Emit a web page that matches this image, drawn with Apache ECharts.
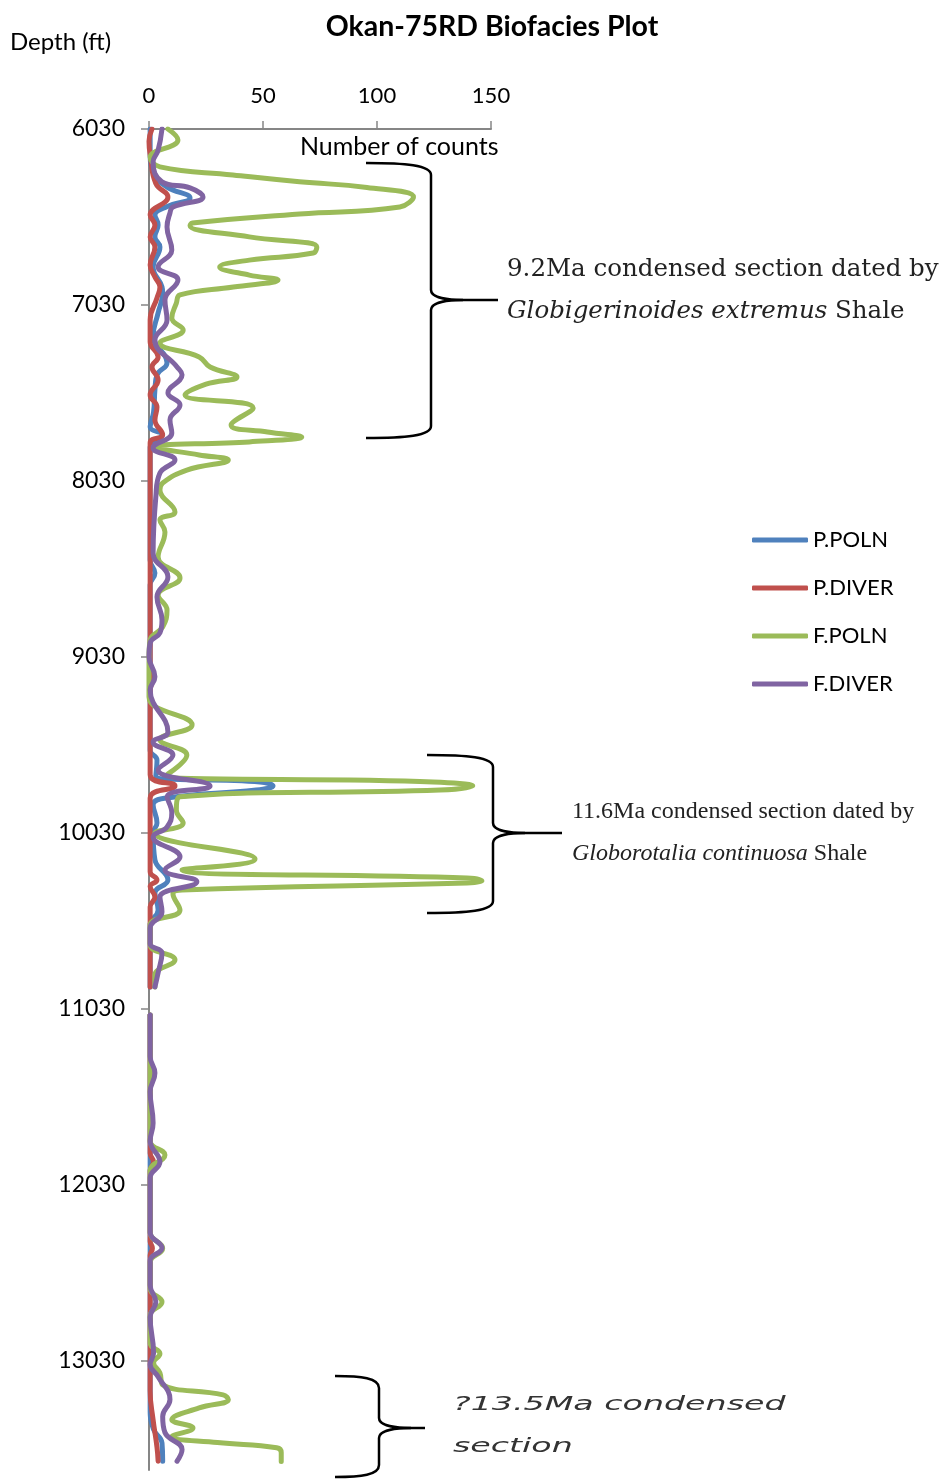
<!DOCTYPE html>
<html><head><meta charset="utf-8">
<script src="https://cdn.jsdelivr.net/npm/echarts@6/dist/echarts.min.js"></script>
<style>html,body{margin:0;padding:0;background:#fff;}#c{width:943px;height:1479px;}</style>
</head><body><div id="c"></div>
<script>
// [count, depth] pairs; null marks the sampling gap
var seriesNames = ['P.POLN', 'P.DIVER', 'F.POLN', 'F.DIVER'];
var depthTicks = [6030, 7030, 8030, 9030, 10030, 11030, 12030, 13030];
var countTicks = [0, 50, 100, 150];

var pPoln = [[0.5,6030],[0.5,6180],[3,6300],[7.9,6360],[18,6422],[8,6470],[2.6,6519],[4,6575],[2.6,6643],[4.8,6700],[1.8,6814],[5.7,6928],[6,6960],[4,7075],[1.8,7206],[7.9,7359],[3.5,7427],[2.6,7512],[2,7640],[0.5,7723],[5.7,7769],[0.5,7837],[0.5,8480],[2.6,8553],[0.5,8620],[0.5,9560],[3.5,9615],[3,9705],[48.7,9740],[54.4,9763],[47,9786],[7.9,9831],[1.8,9870],[3.5,9973],[1.8,10030],[2.6,10183],[8.3,10297],[2.6,10371],[4,10468],[0.5,10553],[0.5,10905],null,[0.5,11064],[0.5,13300],[2,13420],[5.7,13496],[6,13600]];

var pDiver = [[1.3,6030],[0,6100],[0.5,6177],[3,6340],[8.3,6416],[0.5,6519],[2.6,6575],[0.5,6643],[2.6,6700],[0.5,6803],[2.6,6871],[4.8,6928],[3.5,6990],[0.5,7115],[0.5,7240],[4,7325],[1.3,7382],[4,7456],[0.5,7541],[3.5,7610],[2.6,7683],[6,7769],[0.5,7814],[0.5,9100],[1.5,9160],[0.5,9220],[0.5,9700],[11.4,9763],[0.5,9831],[0.5,10250],[3.5,10297],[0.5,10335],[2.6,10394],[0.5,10450],[0.5,10905],null,[0.5,11064],[0.5,11850],[2,11899],[0.5,11950],[0.5,12350],[1.5,12390],[0.5,12430],[0.5,13200],[1.8,13365],[3.5,13520],[4,13600]];

var fPoln = [[8.3,6030],[12.7,6092],[0.5,6190],[4.8,6245],[36.8,6291],[66,6330],[95.6,6362],[116,6416],[110,6473],[66,6513],[19,6564],[18,6580],[44,6643],[73.6,6700],[72,6735],[44,6775],[31,6814],[44,6860],[56.6,6888],[37,6928],[13.6,6973],[12,7019],[10,7104],[15,7172],[4.8,7246],[22,7325],[26.8,7382],[38.6,7439],[25,7480],[15.8,7541],[45.7,7615],[36,7712],[52,7752],[67,7780],[44,7808],[2,7837],[22,7882],[34.8,7911],[16.6,7968],[6,8041],[4.8,8081],[11.4,8206],[4.8,8252],[7,8320],[4,8462],[13.6,8581],[4,8678],[7.9,8763],[6,8860],[0.5,8933],[0,9030],[0,9257],[18.9,9416],[4.8,9501],[16.6,9587],[7.9,9700],[124.6,9740],[142,9763],[127.6,9786],[13.6,9825],[12,9899],[15,9973],[2.6,10030],[46.5,10178],[14.5,10240],[139.5,10286],[146,10303],[139.5,10314],[14.5,10354],[10.5,10375],[13.6,10468],[0.5,10553],[0.5,10666],[11.4,10751],[2.6,10837],[2.6,10905],null,[0.5,11064],[0.5,11780],[7,11860],[0.5,11950],[0.5,12300],[6,12390],[0.5,12470],[0.5,12620],[5.7,12695],[0.5,12770],[0.5,12930],[4.8,12990],[2,13040],[4.8,13098],[6,13166],[32.5,13223],[34.8,13250],[22,13297],[10,13365],[19.3,13411],[10,13460],[30,13494],[56,13524],[58,13551],[58,13602]];

var fDiver = [[5.7,6030],[4,6150],[1.8,6217],[5.7,6330],[18,6365],[23.7,6416],[10.5,6473],[9.2,6507],[7.9,6587],[10,6717],[4,6814],[12.7,6888],[7,7002],[7.9,7115],[2.6,7229],[12.3,7382],[14.5,7427],[8.3,7530],[13.6,7598],[9.2,7683],[10,7757],[1.8,7842],[11.4,7911],[4.8,7985],[3,8120],[1.8,8439],[8.3,8576],[3.5,8689],[5.7,8820],[4.8,8893],[0.5,8950],[0,9030],[2.6,9143],[0.5,9217],[8.3,9456],[1.8,9513],[10.5,9587],[4,9672],[26.8,9763],[7.9,9825],[10,9916],[7.9,9996],[1.8,10053],[13.6,10166],[7,10240],[21,10308],[4.8,10394],[5.7,10479],[0.5,10570],[0.5,10660],[5.7,10712],[4,10825],[2.6,10905],null,[0.5,11064],[0.5,11300],[2.6,11394],[0.5,11500],[1.8,11678],[0.5,11780],[4.8,11899],[0.5,11990],[0.5,12300],[5.7,12388],[0.5,12460],[0.5,12600],[3,12695],[0.5,12780],[2,12985],[0.5,13050],[4,13120],[9.2,13250],[6,13346],[7,13437],[14.5,13534],[12.3,13600]];

var seriesData = [pPoln, pDiver, fPoln, fDiver];
var colors = ['#4F81BD', '#C0504D', '#9BBB59', '#8064A2'];

function prep(arr) { return arr.map(function (p) { return p === null ? ['-', '-'] : p; }); }

// curly brace annotation built from simple graphic primitives
function brace(xs, yt, xv, ytip, xtip, yb) {
  var st = { stroke: '#000', lineWidth: 2.5, fill: null };
  var r = 12, t = 10;
  return [
    { type: 'bezierCurve', shape: { x1: xs, y1: yt, cpx1: xs + (xv - xs) * 0.6, cpy1: yt, cpx2: xv, cpy2: yt + 2, x2: xv, y2: yt + r }, style: st },
    { type: 'line', shape: { x1: xv, y1: yt + r, x2: xv, y2: ytip - t }, style: st },
    { type: 'bezierCurve', shape: { x1: xv, y1: ytip - t, cpx1: xv, cpy1: ytip - 2, cpx2: xv + 18, cpy2: ytip, x2: xv + 32, y2: ytip }, style: st },
    { type: 'line', shape: { x1: xv + 32, y1: ytip, x2: xtip, y2: ytip }, style: st },
    { type: 'bezierCurve', shape: { x1: xv + 32, y1: ytip, cpx1: xv + 18, cpy1: ytip, cpx2: xv, cpy2: ytip + 2, x2: xv, y2: ytip + t }, style: st },
    { type: 'line', shape: { x1: xv, y1: ytip + t, x2: xv, y2: yb - r }, style: st },
    { type: 'bezierCurve', shape: { x1: xv, y1: yb - r, cpx1: xv, cpy1: yb - 2, cpx2: xs + (xv - xs) * 0.6, cpy2: yb, x2: xs, y2: yb }, style: st }
  ];
}

var chart = echarts.init(document.getElementById('c'));
var sansFont = 'Lato';
var graphics = [
  { type: 'text', x: 10, y: 42, style: { text: 'Depth (ft)', font: '24px Lato', fill: '#000', textVerticalAlign: 'middle' } },
  { type: 'text', x: 300, y: 147, style: { text: 'Number of counts', font: '25px Lato', fill: '#000', textVerticalAlign: 'middle' } },
  { type: 'text', x: 507, y: 270, style: { text: '9.2Ma condensed section dated by', font: '24.5px "DejaVu Serif"', fill: '#222', textVerticalAlign: 'middle' } },
  { type: 'text', x: 507, y: 312, style: { text: '{i|Globigerinoides extremus} Shale', font: '24.5px "DejaVu Serif"', fill: '#222', textVerticalAlign: 'middle',
    rich: { i: { fontStyle: 'italic', fontFamily: 'DejaVu Serif', fontSize: 24.5, fill: '#222' } } } },
  { type: 'text', x: 572, y: 812, style: { text: '11.6Ma condensed section dated by', font: '24px "Liberation Serif"', fill: '#222', textVerticalAlign: 'middle' } },
  { type: 'text', x: 572, y: 854, style: { text: '{i|Globorotalia continuosa} Shale', font: '24px "Liberation Serif"', fill: '#222', textVerticalAlign: 'middle',
    rich: { i: { fontStyle: 'italic', fontFamily: 'Liberation Serif', fontSize: 24, fill: '#222' } } } },
  { type: 'text', x: 453, y: 1405, scaleX: 1.75, style: { text: '?13.5Ma condensed', font: 'italic 19px "DejaVu Sans"', fill: '#333', textVerticalAlign: 'middle' } },
  { type: 'text', x: 453, y: 1447, scaleX: 1.75, style: { text: 'section', font: 'italic 19px "DejaVu Sans"', fill: '#333', textVerticalAlign: 'middle' } }
].concat(brace(366, 163, 431, 300, 498, 438))
 .concat(brace(427, 755, 493, 833, 562, 913))
 .concat(brace(335, 1376, 379, 1428, 425, 1477));

var plain = function (v) { return String(v); };

var option = {
  backgroundColor: '#fff',
  animation: false,
  title: {
    text: 'Okan-75RD Biofacies Plot', left: 487, top: 7, textAlign: 'center',
    textStyle: { fontFamily: sansFont, fontWeight: 'bold', fontSize: 28.5, color: '#000' }
  },
  legend: {
    orient: 'vertical', left: 752, top: 528, padding: 0, itemWidth: 56, itemHeight: 5, itemGap: 24,
    icon: 'roundRect',
    data: seriesNames,
    textStyle: { fontFamily: sansFont, fontSize: 22, color: '#000', lineHeight: 24 }
  },
  grid: { left: 149, top: 129, width: 342, height: 1341, containLabel: false },
  xAxis: {
    type: 'value', position: 'top', min: 0, max: 150, interval: 50,
    axisLine: { show: true, lineStyle: { color: '#868686', width: 2 } },
    axisTick: { show: true, length: 8, lineStyle: { color: '#868686', width: 1.5 } },
    axisLabel: { margin: 22, fontFamily: sansFont, fontSize: 22, color: '#000', formatter: plain },
    splitLine: { show: false }
  },
  yAxis: {
    type: 'value', inverse: true, min: 6030, max: 13650,
    axisLine: { show: true, lineStyle: { color: '#868686', width: 2 } },
    axisTick: { show: true, length: 8, lineStyle: { color: '#868686', width: 1.5 }, customValues: depthTicks },
    axisLabel: { margin: 24, fontFamily: sansFont, fontSize: 23, color: '#000', customValues: depthTicks, formatter: plain },
    splitLine: { show: false }
  },
  series: seriesNames.map(function (n, i) {
    return {
      name: n, type: 'line', data: prep(seriesData[i]), symbol: 'none',
      smooth: 0.45, connectNulls: false,
      lineStyle: { color: colors[i], width: 5, cap: 'round', join: 'round' }, itemStyle: { color: colors[i] }
    };
  }),
  graphic: graphics
};
chart.setOption(option);
</script>
</body></html>
